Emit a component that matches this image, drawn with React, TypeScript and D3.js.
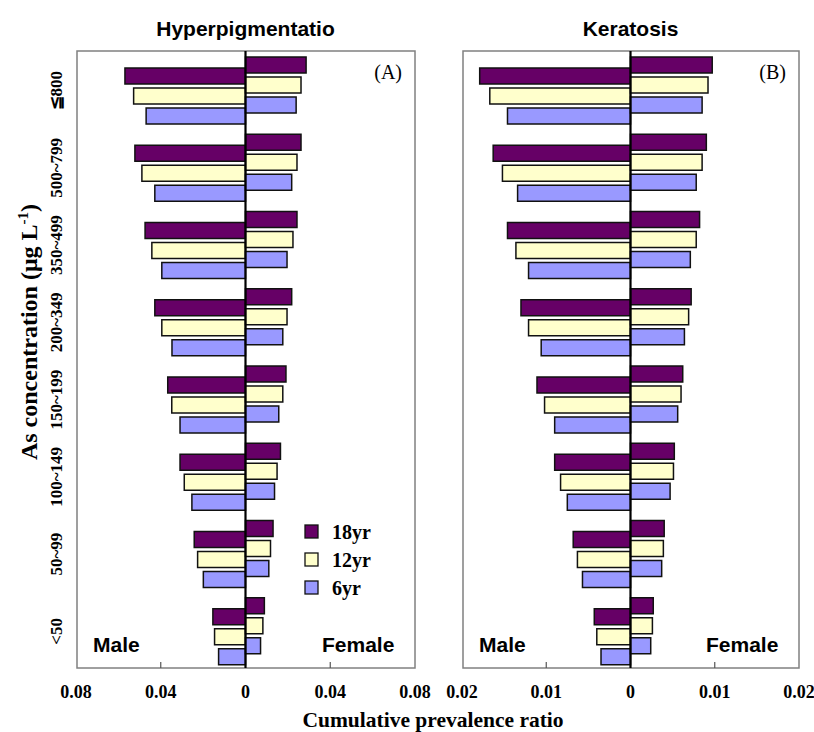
import { useEffect, useRef } from 'react';
import * as d3 from 'd3';

// As concentration groups, top to bottom
const categories = ['≦800', '500~799', '350~499', '200~349', '150~199', '100~149', '50~99', '<50'];
const series = ['18yr', '12yr', '6yr'];
const seriesColors = ['#660066', '#FFFFCC', '#9999FF'];

// (A) Hyperpigmentation, cumulative prevalence ratio
const hyperMale18 = [0.0569, 0.0522, 0.0474, 0.0428, 0.0367, 0.0309, 0.0242, 0.0154];
const hyperMale12 = [0.0528, 0.0489, 0.0442, 0.0395, 0.0348, 0.0289, 0.0226, 0.0146];
const hyperMale6 = [0.0469, 0.0428, 0.0395, 0.0347, 0.0309, 0.0253, 0.0199, 0.0127];
const hyperFemale18 = [0.0286, 0.0262, 0.0243, 0.0218, 0.0191, 0.0165, 0.0130, 0.0089];
const hyperFemale12 = [0.0262, 0.0243, 0.0224, 0.0196, 0.0176, 0.0149, 0.0118, 0.0082];
const hyperFemale6 = [0.0239, 0.0218, 0.0196, 0.0176, 0.0157, 0.0137, 0.0110, 0.0071];

// (B) Keratosis
const kerMale18 = [0.0179, 0.0163, 0.0146, 0.0130, 0.0111, 0.0090, 0.0068, 0.0043];
const kerMale12 = [0.0167, 0.0152, 0.0136, 0.0121, 0.0102, 0.0083, 0.0063, 0.0040];
const kerMale6 = [0.0146, 0.0134, 0.0121, 0.0106, 0.0090, 0.0075, 0.0057, 0.0035];
const kerFemale18 = [0.0097, 0.0090, 0.0082, 0.0072, 0.0062, 0.0052, 0.0040, 0.0027];
const kerFemale12 = [0.0092, 0.0085, 0.0078, 0.0069, 0.0060, 0.0051, 0.0039, 0.0026];
const kerFemale6 = [0.0085, 0.0078, 0.0071, 0.0064, 0.0056, 0.0047, 0.0037, 0.0024];

const hyperTicks = [-0.08, -0.04, 0, 0.04, 0.08];
const kerTicks = [-0.02, -0.01, 0, 0.01, 0.02];

const SERIF = "'Liberation Serif', 'Times New Roman', serif";
const SANS = "'Liberation Sans', Arial, sans-serif";

const W = 814;
const H = 732;

export default function App() {
    const svgRef = useRef<SVGSVGElement>(null);

    useEffect(() => {
        if (!svgRef.current) return;
        const svg = d3.select(svgRef.current);
        svg.selectAll('*').remove();

        const top = 51;
        const bottom = 668;

        const y = d3.scaleBand<string>().domain(categories).range([top + 1, bottom + 2]);
        const inner = d3.scaleBand<string>().domain(series).range([0, 56]).paddingInner(0.2);

        const panels = [
            {
                title: 'Hyperpigmentatio', tag: '(A)', range: [76, 415], max: 0.08, ticks: hyperTicks,
                male: [hyperMale18, hyperMale12, hyperMale6],
                female: [hyperFemale18, hyperFemale12, hyperFemale6],
                legend: true,
            },
            {
                title: 'Keratosis', tag: '(B)', range: [462, 799], max: 0.02, ticks: kerTicks,
                male: [kerMale18, kerMale12, kerMale6],
                female: [kerFemale18, kerFemale12, kerFemale6],
                legend: false,
            },
        ];

        panels.forEach((p) => {
            const x = d3.scaleLinear().domain([-p.max, p.max]).range(p.range);
            const g = svg.append('g');
            const boxLeft = x(-p.max) + 1;
            const boxRight = x(p.max);

            // frame
            g.append('rect')
                .attr('x', boxLeft).attr('y', top)
                .attr('width', boxRight - boxLeft).attr('height', bottom - top)
                .attr('fill', 'none')
                .attr('stroke', '#808080')
                .attr('stroke-width', 1.5);

            // inner ticks at bottom
            p.ticks.filter(t => t !== 0 && Math.abs(t) !== p.max).forEach(t => {
                g.append('line')
                    .attr('x1', x(t)).attr('x2', x(t))
                    .attr('y1', bottom).attr('y2', bottom - 6)
                    .attr('stroke', '#555').attr('stroke-width', 1.2);
            });

            // bars
            categories.forEach((c, i) => {
                const b = y(c) as number;
                series.forEach((s, k) => {
                    const yy = inner(s) as number;
                    const mv = p.male[k][i];
                    const fv = p.female[k][i];
                    g.append('rect')
                        .attr('x', x(-mv)).attr('y', b + 16 + yy)
                        .attr('width', x(0) - x(-mv)).attr('height', inner.bandwidth())
                        .attr('fill', seriesColors[k])
                        .attr('stroke', '#111').attr('stroke-width', 1.5);
                    g.append('rect')
                        .attr('x', x(0)).attr('y', b + 5 + yy)
                        .attr('width', x(fv) - x(0)).attr('height', inner.bandwidth())
                        .attr('fill', seriesColors[k])
                        .attr('stroke', '#111').attr('stroke-width', 1.5);
                });
            });

            // zero line
            g.append('line')
                .attr('x1', x(0)).attr('x2', x(0))
                .attr('y1', top).attr('y2', bottom)
                .attr('stroke', '#000').attr('stroke-width', 2.2);

            // tick labels
            p.ticks.forEach(t => {
                g.append('text')
                    .attr('x', x(t)).attr('y', 698)
                    .attr('text-anchor', 'middle')
                    .style('font-family', SERIF).style('font-weight', 'bold').style('font-size', '18px')
                    .text(String(Math.abs(t)));
            });

            // panel title
            g.append('text')
                .attr('x', x(0)).attr('y', 36)
                .attr('text-anchor', 'middle')
                .style('font-family', SANS).style('font-weight', 'bold').style('font-size', '21px')
                .text(p.title);

            g.append('text')
                .attr('x', boxRight - 13).attr('y', 79)
                .attr('text-anchor', 'end')
                .style('font-family', SERIF).style('font-size', '20px')
                .text(p.tag);

            g.append('text')
                .attr('x', boxLeft + 16).attr('y', 652)
                .style('font-family', SANS).style('font-weight', 'bold').style('font-size', '21px')
                .text('Male');

            g.append('text')
                .attr('x', boxRight - 93).attr('y', 652)
                .style('font-family', SANS).style('font-weight', 'bold').style('font-size', '21px')
                .text('Female');

            if (p.legend) {
                const lg = g.append('g').attr('transform', 'translate(305,525)');
                series.forEach((s, k) => {
                    lg.append('rect')
                        .attr('x', 0).attr('y', k * 28)
                        .attr('width', 13).attr('height', 13)
                        .attr('fill', seriesColors[k])
                        .attr('stroke', '#111').attr('stroke-width', 1.3);
                    lg.append('text')
                        .attr('x', 27).attr('y', k * 28 + 14)
                        .style('font-family', SERIF).style('font-weight', 'bold').style('font-size', '20px')
                        .text(s);
                });
            }
        });

        // category labels (rotated)
        categories.forEach(c => {
            const cy = (y(c) as number) + y.bandwidth() / 2;
            svg.append('text')
                .attr('transform', `translate(62,${cy}) rotate(-90)`)
                .attr('text-anchor', 'middle')
                .style('font-family', SERIF).style('font-weight', 'bold').style('font-size', '17px')
                .text(c);
        });

        // y axis title
        const yt = svg.append('text')
            .attr('transform', 'translate(37,332) rotate(-90)')
            .attr('text-anchor', 'middle')
            .style('font-family', SERIF).style('font-weight', 'bold').style('font-size', '24px');
        yt.append('tspan').text('As concentration (μg L');
        yt.append('tspan').attr('dy', -9).style('font-size', '15px').text('-1');
        yt.append('tspan').attr('dy', 9).text(')');

        // x axis title
        svg.append('text')
            .attr('x', 433).attr('y', 727)
            .attr('text-anchor', 'middle')
            .style('font-family', SERIF).style('font-weight', 'bold').style('font-size', '21.5px')
            .text('Cumulative prevalence ratio');
    }, []);

    return (
        <svg
            ref={svgRef}
            width={W}
            height={H}
            style={{ position: 'absolute', left: 0, top: 0, background: '#fff' }}
        />
    );
}
